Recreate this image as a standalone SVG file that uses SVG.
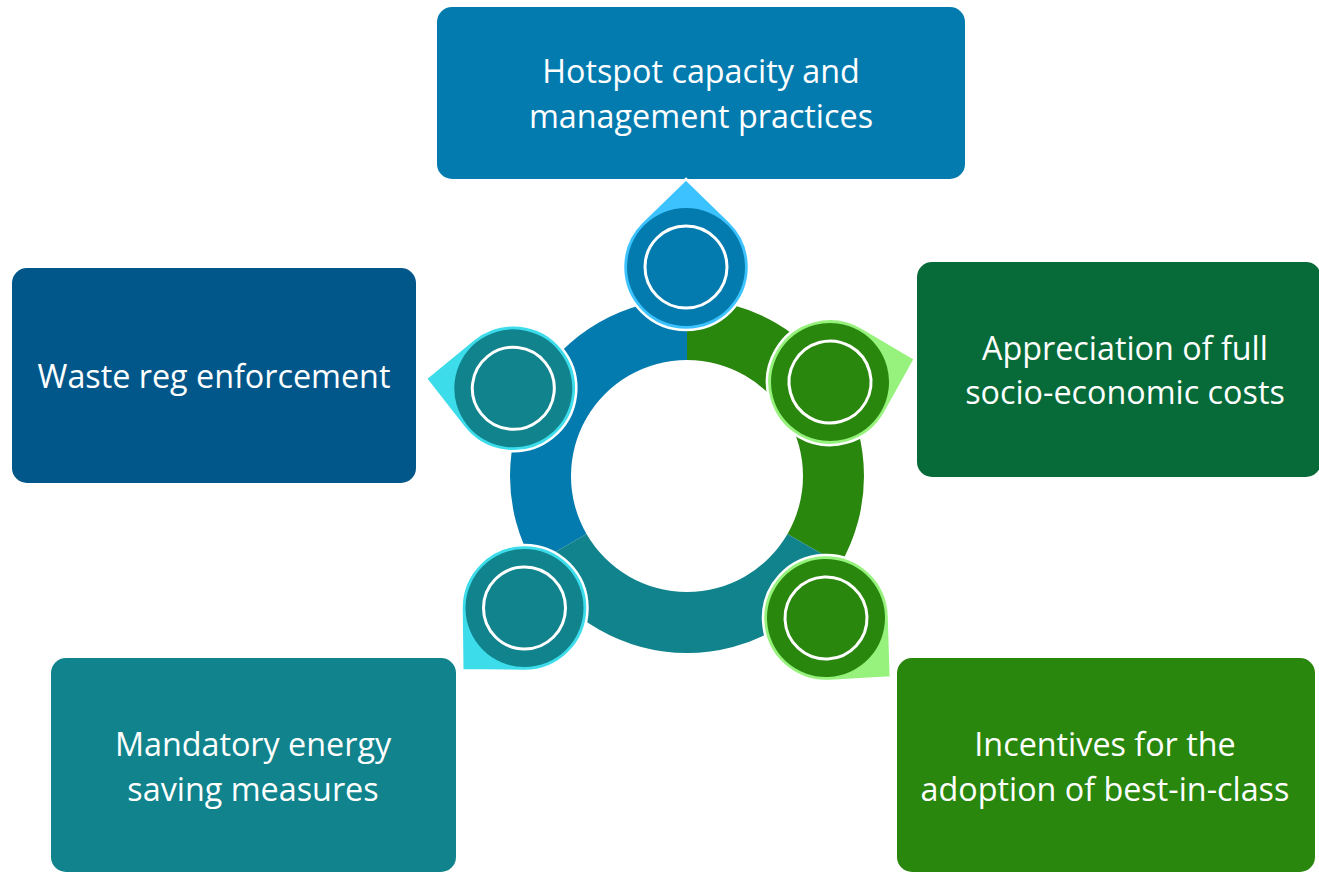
<svg xmlns="http://www.w3.org/2000/svg" xmlns:xlink="http://www.w3.org/1999/xlink" width="1319" height="872" viewBox="0 0 1319 872">
<style>
.lbl{font-family:"Open Sans","Liberation Sans",sans-serif;font-size:32.3px;fill:#fff;text-anchor:middle}
.ring-w{stroke:#fff;stroke-width:3;fill:none}
.drop{stroke:#fff;stroke-width:2.5}
</style>
<defs>
<path id="drop" d="M88,0 L45.09,44 A63,63 0 1 1 45.09,-44 Z"/>
</defs>
<rect width="1319" height="872" fill="#fff"/>
<g id="connectors">
<path id="seg-blue" d="M533.71,564.5 A177,177 0 0 1 687,299 L687,360 A116,116 0 0 0 586.54,534 Z" fill="#037BAF"/>
<path id="seg-green" d="M687,299 A177,177 0 0 1 840.29,564.5 L787.46,534 A116,116 0 0 0 687,360 Z" fill="#2A870E"/>
<path id="seg-teal" d="M840.29,564.5 A177,177 0 0 1 533.71,564.5 L586.54,534 A116,116 0 0 0 787.46,534 Z" fill="#10838C"/>
</g>
<g id="box-hotspot">
<rect x="437" y="7" width="528" height="172" rx="15" fill="#037BAF"/>
<text class="lbl" x="701" y="83">Hotspot capacity and</text>
<text class="lbl" x="701" y="128">management practices</text>
</g>
<g id="box-waste">
<rect x="12" y="268" width="404" height="215" rx="15" fill="#02578A"/>
<text class="lbl" x="214" y="388">Waste reg enforcement</text>
</g>
<g id="box-appreciation">
<rect x="917" y="262" width="404" height="215" rx="15" fill="#066B39"/>
<text class="lbl" x="1125" y="360">Appreciation of full</text>
<text class="lbl" x="1125" y="404">socio-economic costs</text>
</g>
<g id="box-mandatory">
<rect x="51" y="658" width="405" height="214" rx="15" fill="#10838C"/>
<text class="lbl" x="253" y="756">Mandatory energy</text>
<text class="lbl" x="253" y="801">saving measures</text>
</g>
<g id="box-incentives">
<rect x="897" y="658" width="418" height="214" rx="15" fill="#2A870E"/>
<text class="lbl" x="1105" y="756">Incentives for the</text>
<text class="lbl" x="1105" y="801">adoption of best-in-class</text>
</g>
<g id="pin-1" transform="translate(686,267) rotate(-90)">
<use xlink:href="#drop" class="drop" fill="#3CC3FF"/>
<circle r="59" fill="#037BAF"/>
<circle r="41" class="ring-w"/>
</g>
<g id="pin-2" transform="translate(830,382) rotate(-15.2)">
<use xlink:href="#drop" class="drop" fill="#96F27C"/>
<circle r="59" fill="#2A870E"/>
<circle r="41" class="ring-w"/>
</g>
<g id="pin-3" transform="translate(826,618) rotate(42.5)">
<use xlink:href="#drop" class="drop" fill="#96F27C"/>
<circle r="59" fill="#2A870E"/>
<circle r="41" class="ring-w"/>
</g>
<g id="pin-4" transform="translate(524.5,608) rotate(135)">
<use xlink:href="#drop" class="drop" fill="#3CDCEB"/>
<circle r="59" fill="#10838C"/>
<circle r="41" class="ring-w"/>
</g>
<g id="pin-5" transform="translate(513.3,388.3) rotate(186.3)">
<use xlink:href="#drop" class="drop" fill="#3CDCEB"/>
<circle r="59" fill="#10838C"/>
<circle r="41" class="ring-w"/>
</g>
</svg>
